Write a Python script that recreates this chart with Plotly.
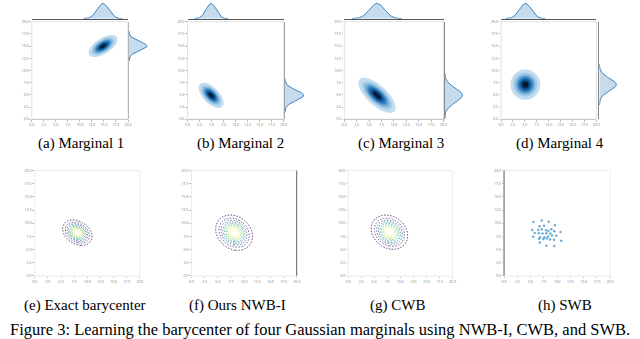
import numpy as np
import plotly.graph_objects as go

W, H = 640, 339

# top row: the four Gaussian marginals (mean, sd, correlation)
marg_mean_x = [14.8, 4.9, 6.6, 5.1]
marg_mean_y = [15.0, 4.9, 4.9, 7.1]
marg_sd_x = [1.22, 1.06, 1.53, 1.27]
marg_sd_y = [0.92, 1.06, 1.47, 1.27]
marg_rho = [0.6, -0.6, -0.7, 0.0]

# bottom row: exact barycenter, NWB-I, CWB
bary_mean_x = [8.1, 8.1, 7.9]
bary_mean_y = [8.2, 8.2, 8.3]
bary_sd_x = [1.3, 1.63, 1.63]
bary_sd_y = [1.12, 1.56, 1.51]
bary_rho = [-0.3, -0.2, -0.2]

# SWB support points
swb_x = [5.55, 7.10, 8.41, 9.59, 6.67, 7.54, 5.30, 6.42, 7.10, 7.91, 8.35, 8.91,
         9.47, 10.65, 5.79, 6.54, 7.23, 7.97, 8.72, 9.84, 5.48, 6.79, 7.60, 8.29,
         9.03, 6.60, 7.41, 8.04, 8.66, 9.41, 10.78, 6.73, 7.97, 9.47]
swb_y = [10.22, 10.53, 10.28, 9.59, 9.41, 9.53, 8.72, 8.72, 8.85, 8.66, 8.54, 8.85,
         8.47, 8.35, 8.16, 8.10, 8.04, 8.10, 8.04, 7.60, 7.41, 7.35, 7.35, 7.48,
         7.66, 7.04, 6.98, 7.10, 6.92, 6.85, 6.67, 6.35, 5.73, 5.67]

tick_vals = [0, 2.5, 5, 7.5, 10, 12.5, 15, 17.5, 20]
tick_text = ["0.0", "2.5", "5.0", "7.5", "10.0", "12.5", "15.0", "17.5", "20.0"]

top_captions = ["(a) Marginal 1", "(b) Marginal 2", "(c) Marginal 3", "(d) Marginal 4"]
bottom_captions = ["(e) Exact barycenter", "(f) Ours NWB-I", "(g) CWB", "(h) SWB"]
fig_caption = "Figure 3: Learning the barycenter of four Gaussian marginals using NWB-I, CWB, and SWB."

grid = np.linspace(0, 20, 201)


def gauss2d(mx, my, sx, sy, r):
    X, Y = np.meshgrid(grid, grid)
    dx = (X - mx) / sx
    dy = (Y - my) / sy
    q = (dx * dx - 2 * r * dx * dy + dy * dy) / (1 - r * r)
    return np.exp(-q / 2)


def fx(p):
    return p / W


def fy(p):
    return 1 - p / H


blues = [[0, "#ffffff"], [0.111, "#c4dcef"], [0.333, "#7fb6dc"], [0.555, "#3585c1"],
         [0.777, "#125ca0"], [0.889, "#0b3a6e"], [1, "#071a33"]]

tickfont = dict(size=3.5, color="#777")

fig = go.Figure()
layout = {}
shapes = []
ax = 0


def new_axes(xd, yd, **kw):
    global ax
    ax += 1
    s = "" if ax == 1 else str(ax)
    layout["xaxis" + s] = dict(domain=[fx(xd[0]), fx(xd[1])], anchor="y" + s,
                               showgrid=False, zeroline=False, **kw.get("x", {}))
    layout["yaxis" + s] = dict(domain=[fy(yd[1]), fy(yd[0])], anchor="x" + s,
                               showgrid=False, zeroline=False, **kw.get("y", {}))
    return "x" + s, "y" + s


main_axis = dict(range=[0, 20], tickvals=tick_vals, ticktext=tick_text, tickfont=tickfont,
                 ticks="outside", ticklen=1.5, tickcolor="#bbb")

# ---- top row
top_x = [(30, 127), (187, 284), (345, 445), (503, 599)]
right_x = [(128, 147), (285, 305), (446, 465), (602, 620)]
top_y = (19, 118)
for i in range(4):
    mx, my = marg_mean_x[i], marg_mean_y[i]
    sx, sy, r = marg_sd_x[i], marg_sd_y[i], marg_rho[i]
    xa, ya = new_axes(top_x[i], top_y,
                      x=dict(main_axis, showline=True, linecolor="#777", linewidth=1),
                      y=dict(main_axis))
    fig.add_trace(go.Contour(x=grid, y=grid, z=gauss2d(mx, my, sx, sy, r), xaxis=xa, yaxis=ya,
                             colorscale=blues, showscale=False, hoverinfo="skip",
                             contours=dict(start=0.05, end=0.9, size=0.95 / 9,
                                           coloring="fill", showlines=False),
                             line=dict(width=0)))
    shapes.append(dict(type="rect", xref="paper", yref="paper", layer="above",
                       x0=fx(top_x[i][0]), x1=fx(top_x[i][1]), y0=fy(top_y[1]), y1=fy(top_y[0]),
                       line=dict(color="#e2e2e2", width=1)))
    # top marginal
    xa, ya = new_axes(top_x[i], (0, 16),
                      x=dict(range=[0, 20], showticklabels=False, showline=True,
                             linecolor="#555", linewidth=1),
                      y=dict(range=[0, 1.03], visible=False))
    gx = np.linspace(mx - 3.3 * sx, mx + 3.3 * sx, 120)
    fig.add_trace(go.Scatter(x=gx, y=np.exp(-0.5 * ((gx - mx) / sx) ** 2), xaxis=xa, yaxis=ya,
                             mode="lines", fill="tozeroy", fillcolor="rgba(49,130,189,0.28)",
                             line=dict(color="#3a84c4", width=1), hoverinfo="skip",
                             showlegend=False))
    # right marginal
    xa, ya = new_axes(right_x[i], top_y,
                      x=dict(range=[0, 1.05], visible=False),
                      y=dict(range=[0, 20], showticklabels=False, showline=True,
                             linecolor="#888", linewidth=1))
    gy = np.linspace(my - 3.3 * sy, my + 3.3 * sy, 120)
    fig.add_trace(go.Scatter(x=np.exp(-0.5 * ((gy - my) / sy) ** 2), y=gy, xaxis=xa, yaxis=ya,
                             mode="lines", fill="tozerox", fillcolor="rgba(49,130,189,0.28)",
                             line=dict(color="#3a84c4", width=1), hoverinfo="skip",
                             showlegend=False))

# ---- bottom row
bot_x = [(33, 139), (191, 297), (349, 454), (506, 613)]
bot_y = (170, 277)
for i in range(4):
    xa, ya = new_axes(bot_x[i], bot_y, x=dict(main_axis), y=dict(main_axis))
    shapes.append(dict(type="rect", xref="paper", yref="paper", layer="above",
                       x0=fx(bot_x[i][0]), x1=fx(bot_x[i][1]), y0=fy(bot_y[1]), y1=fy(bot_y[0]),
                       line=dict(color="#ececec", width=1)))
    if i < 3:
        z = gauss2d(bary_mean_x[i], bary_mean_y[i], bary_sd_x[i], bary_sd_y[i], bary_rho[i])
        fig.add_trace(go.Contour(x=grid, y=grid, z=z, xaxis=xa, yaxis=ya,
                                 colorscale="Viridis", showscale=False, hoverinfo="skip",
                                 contours=dict(start=0.1, end=0.88, size=0.11, coloring="lines"),
                                 line=dict(width=0.8, dash="1.5px,1.5px")))
    else:
        fig.add_trace(go.Scatter(x=swb_x, y=swb_y, xaxis=xa, yaxis=ya, mode="markers",
                                 marker=dict(size=2.5, color="#6aaed6"), showlegend=False,
                                 hoverinfo="skip"))

# dark spines seen in (f) and (h)
shapes.append(dict(type="line", xref="paper", yref="paper", x0=fx(297), x1=fx(297),
                   y0=fy(277), y1=fy(170), line=dict(color="#666", width=1)))
shapes.append(dict(type="line", xref="paper", yref="paper", x0=fx(506), x1=fx(506),
                   y0=fy(277), y1=fy(170), line=dict(color="#666", width=1)))

annotations = []
cap_font = dict(family="Liberation Serif", size=15, color="black")
for cx, t in zip([80, 240, 402, 562], top_captions):
    annotations.append(dict(x=fx(cx), y=fy(143), xref="paper", yref="paper", text=t,
                            showarrow=False, font=cap_font, xanchor="center", yanchor="middle"))
for cx, t in zip([84, 237, 399, 567], bottom_captions):
    annotations.append(dict(x=fx(cx), y=fy(307), xref="paper", yref="paper", text=t,
                            showarrow=False, font=cap_font, xanchor="center", yanchor="middle"))
annotations.append(dict(x=fx(320), y=fy(331), xref="paper", yref="paper", text=fig_caption,
                        showarrow=False, font=dict(family="Liberation Serif", size=16.5, color="black"),
                        xanchor="center", yanchor="middle"))

fig.update_layout(**layout)
fig.update_layout(width=W, height=H, autosize=False, margin=dict(l=0, r=0, t=0, b=0),
                  paper_bgcolor="white", plot_bgcolor="white", showlegend=False,
                  shapes=shapes, annotations=annotations)

# the page's default 8px body margin would shift the whole figure
fig.write_html("out.html", config={"displayModeBar": False},
               post_script="document.body.style.margin='0';")
